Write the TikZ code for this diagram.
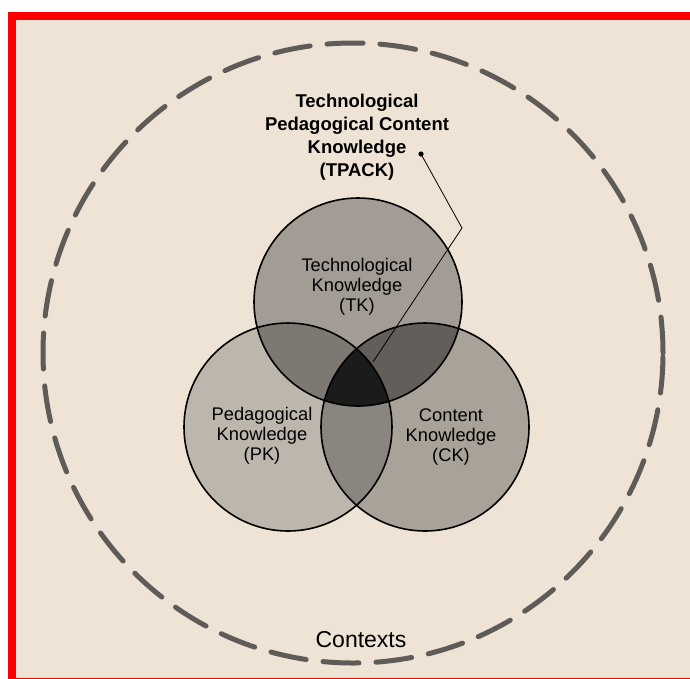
\documentclass[tikz,border=0pt]{standalone}
\usepackage{fontspec}
\setmainfont{Liberation Sans}
\usepackage{tikz}
\usetikzlibrary{positioning}

\definecolor{paper}{HTML}{EEE3D5}
\definecolor{ringgray}{HTML}{5E5B58}
\definecolor{tkgray}{HTML}{A29C95}
\definecolor{pkgray}{HTML}{BDB6AC}
\definecolor{ckgray}{HTML}{A9A299}
\definecolor{tpgray}{HTML}{7E7873}
\definecolor{tcgray}{HTML}{625E5A}
\definecolor{pcgray}{HTML}{8B857F}
\definecolor{allgray}{HTML}{1C1B1B}

\begin{document}
\begin{tikzpicture}[x=1pt, y=-1pt,
		venn/.style={circle, draw, line width=1.6pt, minimum size=208pt, inner sep=0pt},
		ring/.style={circle, draw=ringgray, line width=5pt, dash pattern=on 36pt off 17pt, line cap=round, minimum size=620pt, inner sep=0pt},
		lbl/.style={align=center, font=\fontsize{18.3}{20}\selectfont}]
				\useasboundingbox (0,0) rectangle (690,678);
				\fill[white] (0,0) rectangle (690,678);
				\fill[paper] (12,16) rectangle (696,682);
				\draw[red, line width=8pt] (12,16) rectangle (696,682);
				
				\coordinate (t) at (358,302);
				\coordinate (p) at (288,427);
				\coordinate (c) at (425,427);
				
				% shaded regions
				\fill[pkgray] (p) circle (104pt);
				\fill[ckgray] (c) circle (104pt);
				\fill[tkgray] (t) circle (104pt);
				\begin{scope}
					\clip (t) circle (104pt);
					\fill[tpgray] (p) circle (104pt);
					\fill[tcgray] (c) circle (104pt);
				\end{scope}
				\begin{scope}
					\clip (p) circle (104pt);
					\fill[pcgray] (c) circle (104pt);
					\clip (t) circle (104pt);
					\fill[allgray] (c) circle (104pt);
				\end{scope}
				
				\node[ring] (0) at (353,353) {};
				\node[venn] (1) at (t) {};
				\node[venn] (2) at (p) {};
				\node[venn] (3) at (c) {};
				
				\node[lbl] (tk) at (357,287) {Technological\\Knowledge\\(TK)};
				\node[lbl] (pk) at (262,436) {Pedagogical\\Knowledge\\(PK)};
				\node[lbl] (ck) at (451,437) {Content\\Knowledge\\(CK)};
				\node[align=center, font=\bfseries\fontsize{18.5}{23}\selectfont] (tpack) at (357,137) {Technological\\Pedagogical Content\\Knowledge\\(TPACK)};
				\node[font=\fontsize{23}{26}\selectfont] (ctx) at (361,640) {Contexts};
				
				\coordinate (dot) at (421,154);
				\coordinate (bend) at (462,228);
				\coordinate (tip) at (373,362);
				\fill (dot) circle (2.6pt);
				\draw[line width=0.8pt] (dot) -- (bend) -- (tip);
			\end{tikzpicture}
\end{document}
